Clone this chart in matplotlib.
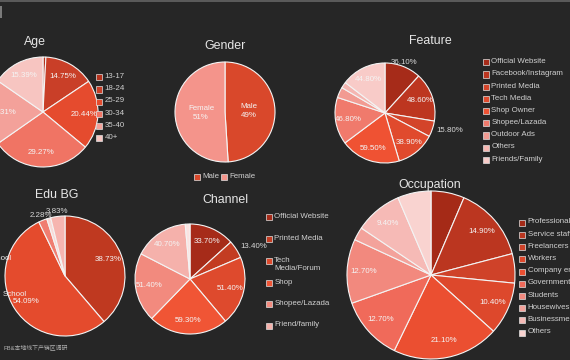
#dashboard of six survey pies, dark background, google-charts look
import numpy as np
import matplotlib
matplotlib.use("Agg")
import matplotlib.pyplot as plt
from matplotlib.patches import Rectangle

plt.rcParams['font.family'] = ['Liberation Sans', 'Noto Sans CJK SC', 'DejaVu Sans']

W, H = 570, 360
BG = '#262626'

# ---- data ----
age_labels = ['13-17', '18-24', '25-29', '30-34', '35-40', '40+']
age_values = [0.84, 14.75, 20.44, 29.27, 19.31, 15.39]
age_text = [None, '14.75%', '20.44%', '29.27%', '19.31%', '15.39%']

gender_labels = ['Male', 'Female']
gender_values = [49, 51]
gender_text = ['Male\n49%', 'Female\n51%']

feature_labels = ['Official Website', 'Facebook/Instagram', 'Printed Media', 'Tech Media',
                  'Shop Owner', 'Shopee/Lazada', 'Outdoor Ads', 'Others', 'Friends/Family']
feature_values = [36.1, 48.6, 15.8, 38.9, 59.5, 46.8, 10.5, 6.0, 44.8]
feature_text = ['36.10%', '48.60%', '15.80%', '38.90%', '59.50%', '46.80%', None, None, '44.80%']

edu_values = [38.73, 54.09, 2.28, 1.07, 3.83]
edu_text = ['38.73%', '54.09%', '2.28%', None, '3.83%']

channel_labels = ['Official Website', 'Printed Media', 'Tech\nMedia/Forum', 'Shop',
                  'Shopee/Lazada', 'Friend/family']
channel_values = [33.7, 13.4, 51.4, 59.3, 51.4, 40.7, 3.5]
channel_text = ['33.70%', '13.40%', '51.40%', '59.30%', '51.40%', '40.70%', None]

occ_labels = ['Professional', 'Service staff', 'Freelancers', 'Workers', 'Company employees',
              'Government', 'Students', 'Housewives', 'Businessmen', 'Others']
occ_values = [6.6, 14.9, 5.8, 10.4, 21.1, 12.7, 12.7, 2.6, 9.4, 6.6]
occ_text = [None, '14.90%', None, '10.40%', '21.10%', '12.70%', '12.70%', None, '9.40%', None]

# colours
age_colors = ['#b5321d', '#c93f28', '#e54b2e', '#f07464', '#f3a19a', '#f7c5c1']
gender_colors = ['#d9482b', '#f4948b']
feature_colors = ['#a62b19', '#bd3620', '#d3442a', '#e04a2d', '#ef5233',
                  '#f07a6c', '#f29b92', '#f5b6b1', '#f8cbc8']
edu_colors = ['#bf3920', '#e44b2d', '#f07d71', '#f9d9d6', '#f6b5b0']
channel_colors = ['#a62b19', '#c33c22', '#de4a2d', '#f05535', '#f28a7e', '#f5b1ab', '#fbe3e1']
occ_colors = ['#a52a17', '#bb3620', '#cf4229', '#dd482c', '#eb4f31',
              '#f06a5a', '#f2897e', '#f3a29b', '#f6bab6', '#f9d3d0']

fig = plt.figure(figsize=(W / 100, H / 100), dpi=100)
fig.patch.set_facecolor(BG)


def fx(x):
    return x / W


def fy(y):
    return 1 - y / H


def draw_pie(cx, cy, r, values, colors, texts, dist=0.75, outside=()):
    ax = fig.add_axes([fx(cx - r), fy(cy + r), 2 * r / W, 2 * r / H])
    ax.axis('off')
    wedges, _ = ax.pie(values, colors=colors, startangle=90, counterclock=False,
                       radius=1, wedgeprops=dict(edgecolor='#f4f4f4', linewidth=0.8))
    ax.set_xlim(-1, 1)
    ax.set_ylim(-1, 1)
    for w, t in zip(wedges, texts):
        w.set_clip_on(False)
        if t is None:
            continue
        ang = np.deg2rad((w.theta1 + w.theta2) / 2)
        c, s = np.cos(ang), np.sin(ang)
        if t in outside:
            d = 1.08
            ha = 'left' if c > 0.5 else ('right' if c < -0.5 else 'center')
            col = '#d8d8d8'
        else:
            d = dist
            ha = 'center'
            col = '#f4f4f4'
        ax.text(d * c, d * s, t, ha=ha, va='center', fontsize=5.7, color=col,
                linespacing=1.3, clip_on=False)
    return ax


def legend(x, y0, dy, labels, colors):
    for i, (lab, col) in enumerate(zip(labels, colors)):
        y = y0 + i * dy
        fig.add_artist(Rectangle((fx(x), fy(y + 3)), 6 / W, 6 / H, facecolor=col,
                                 edgecolor='#e2e2e2', linewidth=0.5,
                                 transform=fig.transFigure))
        fig.text(fx(x + 8.5), fy(y - 4.2), lab, ha='left', va='top', fontsize=5.7,
                 color='#d0d0d0', linespacing=1.25)


# ---- pies ----
draw_pie(43, 112, 55, age_values, age_colors, age_text, dist=0.74)
draw_pie(225, 112, 50, gender_values, gender_colors, gender_text, dist=0.48)
draw_pie(385, 113, 50, feature_values, feature_colors, feature_text, dist=0.75,
         outside=('36.10%', '15.80%'))
draw_pie(65, 276, 60, edu_values, edu_colors, edu_text, dist=0.77,
         outside=('2.28%', '3.83%'))
draw_pie(190, 279, 55, channel_values, channel_colors, channel_text, dist=0.75,
         outside=('13.40%',))
draw_pie(431, 275, 84, occ_values, occ_colors, occ_text, dist=0.8)

# ---- titles ----
title_kw = dict(ha='center', va='center', fontsize=8.9, color='#e6e6e6')
fig.text(fx(35), fy(42), 'Age', **title_kw)
fig.text(fx(225), fy(46), 'Gender', **title_kw)
fig.text(fx(430), fy(41), 'Feature', **title_kw)
fig.text(fx(57), fy(195), 'Edu BG', **title_kw)
fig.text(fx(225), fy(200), 'Channel', **title_kw)
fig.text(fx(430), fy(185), 'Occupation', **title_kw)

# ---- legends ----
legend(96, 77.3, 12.2, age_labels, age_colors)
legend(482.7, 62.3, 12.2, feature_labels, feature_colors)
legend(519, 222.7, 12.2, occ_labels, occ_colors)
ch_y = [217, 239, 261, 282.7, 304.3, 325.7]
for lab, col, y in zip(channel_labels, channel_colors, ch_y):
    legend(265.7, y, 0, [lab], [col])
legend(194.3, 176.7, 0, ['Male'], [gender_colors[0]])
legend(221, 176.7, 0, ['Female'], [gender_colors[1]])

# edu labels cut off at the left edge
fig.text(fx(12), fy(259), 'School', ha='right', va='center', fontsize=5.7, color='#f0f0f0')
fig.text(fx(3), fy(295), 'School', ha='left', va='center', fontsize=5.7, color='#f0f0f0')

# footer + frame bits
fig.text(fx(3), fy(347), 'FB&本地线下产销区调研', ha='left', va='center', fontsize=4.2,
         color='#b0b0b0')
fig.add_artist(Rectangle((0, fy(1.5)), 1, 1.5 / H, facecolor='#5a5a5a', edgecolor='none',
                         transform=fig.transFigure))
fig.add_artist(Rectangle((0, fy(18)), 2 / W, 12 / H, facecolor='#7a7a7a', edgecolor='none',
                         transform=fig.transFigure))

fig.savefig('out.png', dpi=100, facecolor=BG)
